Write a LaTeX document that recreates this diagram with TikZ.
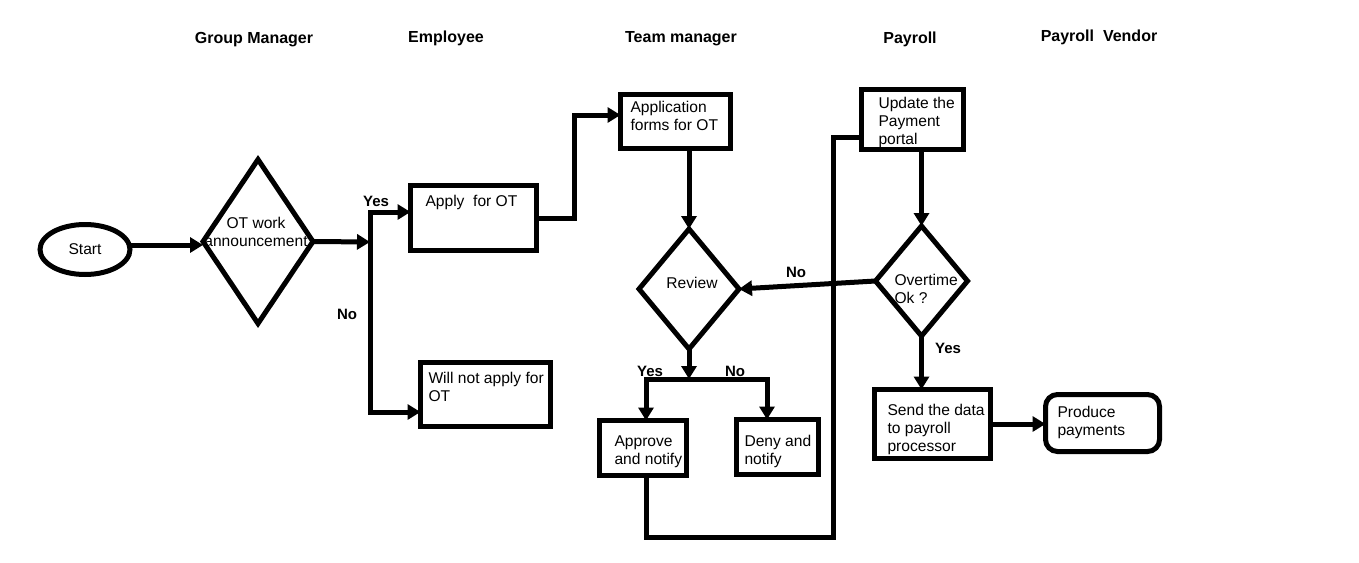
\documentclass[tikz,border=0pt]{standalone}
\usepackage{fontspec}
\setmainfont{Liberation Sans}
\usetikzlibrary{arrows.meta,shapes.geometric}
\begin{document}
\begin{tikzpicture}[x=1pt,y=-1pt,line width=5pt,
  box/.style={draw,rectangle,inner sep=0pt,outer sep=0pt},
  rbox/.style={box,rounded corners=12pt},
  dmd/.style={draw,diamond,inner sep=0pt,outer sep=0pt},
  ell/.style={draw,ellipse,inner sep=0pt,outer sep=0pt,font=\fontsize{15.6}{17.8}\selectfont},
  txt/.style={inner sep=0pt,anchor=north west,align=left,font=\fontsize{15.6}{17.8}\selectfont,execute at begin node=\strut},
  ctxt/.style={inner sep=0pt,font=\fontsize{15.6}{17.8}\selectfont},
  hdr/.style={inner sep=0pt,font=\bfseries\fontsize{16}{18}\selectfont},
  lbl/.style={inner sep=0pt,font=\bfseries\fontsize{15}{17}\selectfont},
  arr/.style={-{Triangle[length=13pt,width=15pt]}},
  conn/.style={line join=miter},
]
\useasboundingbox[fill=white] (0,0) rectangle (1359,562);

% headers
\node[hdr] (h1) at (254,40) {Group Manager};
\node[hdr] (h2) at (446,38) {Employee};
\node[hdr] (h3) at (681,39) {Team manager};
\node[hdr] (h4) at (910,39) {Payroll};
\node[hdr] (h5) at (1099,37) {Payroll\ \ Vendor};

% shapes
\node[ell,minimum width=90pt,minimum height=50pt] (start) at (85,249.5) {Start};
\node[dmd,minimum width=110pt,minimum height=164pt] (ot) at (258,241.5) {};
\node[ctxt,anchor=north,align=center,execute at begin node=\strut] (ott) at (256,215) {OT work\\announcement};

\node[box,minimum width=126pt,minimum height=65pt] (apply) at (473.5,218) {};
\node[txt] (applyt) at (423,192) {Apply\ \ for OT};
\node[box,minimum width=130pt,minimum height=64pt] (willnot) at (485.5,394.5) {};
\node[txt] (willnott) at (426,370) {Will not apply for\\OT};

\node[box,minimum width=110pt,minimum height=54pt] (app) at (675.5,121.5) {};
\node[txt] (appt) at (628,99) {Application\\forms for OT};
\node[dmd,minimum width=100pt,minimum height=120pt] (review) at (689,289) {};
\node[ctxt] (reviewt) at (692,283) {Review};
\node[box,minimum width=87pt,minimum height=55pt] (approve) at (643,448) {};
\node[txt] (approvet) at (612,433) {Approve\\and notify};
\node[box,minimum width=82pt,minimum height=55pt] (deny) at (777.5,447) {};
\node[txt] (denyt) at (742,433) {Deny and\\notify};

\node[box,minimum width=102pt,minimum height=60pt] (update) at (912.5,119.5) {};
\node[txt] (updatet) at (876,95) {Update the\\Payment\\portal};
\node[dmd,minimum width=92pt,minimum height=110pt] (over) at (921.5,281) {};
\node[txt] (overt) at (892,272) {Overtime\\Ok ?};
\node[box,minimum width=116pt,minimum height=69pt] (send) at (932.5,424) {};
\node[txt] (sendt) at (885,402) {Send the data\\to payroll\\processor};
\node[rbox,minimum width=114pt,minimum height=57pt] (produce) at (1102.5,423) {};
\node[txt] (producet) at (1055,404) {Produce\\payments};

% junction points
\coordinate (j0) at (0,245);
\coordinate (j1) at (370,242);
\coordinate (jy) at (370,212);
\coordinate (jn) at (370,412);
\coordinate (j2) at (574,115);
\coordinate (js) at (689,379);
\coordinate (ja) at (646,379);
\coordinate (jd) at (767,379);
\coordinate (jb) at (833,537);
\coordinate (jt) at (833,137);

% connectors
\draw[arr] (start.east |- j0) -- (ot.west |- j0);
\draw[arr] (ot.east) -- (j1);
\draw[arr,conn] (jn) -- (jy) -- (jy -| apply.west);
\draw[arr,conn] (jy) -- (jn) -- (jn -| willnot.west);
\draw[arr,conn] (apply.east) -| (j2) -- (j2 -| app.west);
\draw[arr] (review.north |- app.south) -- (review.north);
\draw[arr] (review.south) -- (js);
\draw[arr,conn] (jd) -- (ja) -- (ja |- approve.north);
\draw[arr,conn] (ja) -- (jd) -- (jd |- deny.north);
\draw[conn] (approve.south -| ja) |- (jb) -- (jt) -- (jt -| update.west);
\draw[arr] (over.north |- update.south) -- (over.north);
\draw[arr] (over.west) -- (review.east);
\draw[arr] (over.south) -- (over.south |- send.north);
\draw[arr] (send.east) -- (send.east -| produce.west);

% labels
\node[lbl] (l1) at (376,201) {Yes};
\node[lbl] (l2) at (347,314) {No};
\node[lbl] (l3) at (650,371) {Yes};
\node[lbl] (l4) at (735,371) {No};
\node[lbl] (l5) at (796,272) {No};
\node[lbl] (l6) at (948,348) {Yes};
\end{tikzpicture}
\end{document}
